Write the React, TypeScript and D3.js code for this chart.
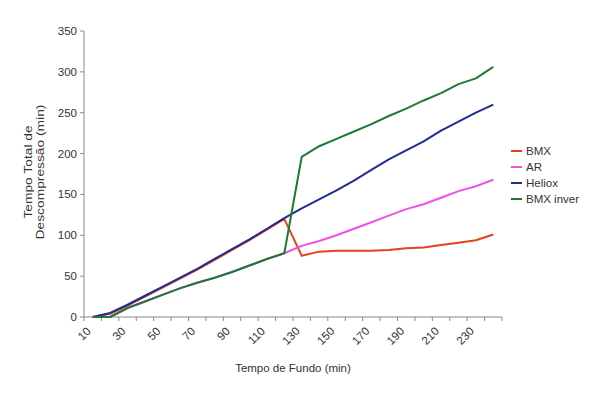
import React from "react";
import * as d3 from "d3";

const categories = [10, 20, 30, 40, 50, 60, 70, 80, 90, 100, 110, 120, 130, 140, 150, 160, 170, 180, 190, 200, 210, 220, 230, 240];
const bmx = [0, 4, 14, 25, 36, 47, 58, 70, 82, 94, 107, 120, 75, 80, 81, 81, 81, 82, 84, 85, 88, 91, 94, 101];
const ar = [0, 0, 11, 19, 27, 35, 42, 48, 55, 63, 71, 78, 87, 93, 100, 108, 116, 124, 132, 138, 146, 154, 160, 168];
const heliox = [0, 5, 15, 26, 37, 48, 59, 71, 83, 95, 108, 121, 133, 144, 155, 167, 180, 193, 204, 215, 228, 239, 250, 260];
const bmxInver = [0, 0, 11, 19, 27, 35, 42, 48, 55, 63, 71, 78, 196, 209, 218, 227, 236, 246, 255, 265, 274, 285, 292, 306];
const yTicks = [0, 50, 100, 150, 200, 250, 300, 350];
const seriesNames = ["BMX", "AR", "Heliox", "BMX inver"];
const seriesColors = ["#e8401c", "#f050e8", "#232a96", "#1c7a32"];

const W = 591;
const H = 399;
const left = 84;
const right = 502;
const top = 31;
const bottom = 317;
const font = "Liberation Sans, Arial, sans-serif";

export default function App() {
  const x = d3.scaleBand<number>().domain(categories).range([left, right]).paddingInner(0).paddingOuter(0);
  const y = d3.scaleLinear().domain([0, 350]).range([bottom, top]);
  const cx = (c: number) => (x(c) as number) + x.bandwidth() / 2;
  const series = [bmx, ar, heliox, bmxInver];
  const line = d3
    .line<number>()
    .x((_, i) => cx(categories[i]))
    .y((v) => y(v));
  const boundaries = d3.range(categories.length + 1).map((i) => left + i * x.bandwidth());

  return (
    <svg width={W} height={H} style={{ position: "absolute", left: 0, top: 0, background: "#fff" }} fontFamily={font}>
      <rect x={0} y={0} width={W} height={H} fill="#fff" />
      {/* axes */}
      <line x1={left} x2={left} y1={top} y2={bottom} stroke="#8a8a8a" strokeWidth={1} />
      <line x1={left} x2={right} y1={bottom} y2={bottom} stroke="#8a8a8a" strokeWidth={1} />
      {yTicks.map((t) => (
        <g key={"y" + t}>
          <line x1={left - 4} x2={left} y1={y(t)} y2={y(t)} stroke="#8a8a8a" />
          <text x={left - 7} y={y(t)} dy="0.35em" textAnchor="end" fontSize={11.5} fill="#333">
            {t}
          </text>
        </g>
      ))}
      {boundaries.map((b, i) => (
        <line key={"xt" + i} x1={b} x2={b} y1={bottom} y2={bottom + 4} stroke="#8a8a8a" />
      ))}
      {categories.map((c, i) =>
        i % 2 === 0 ? (
          <text
            key={"xl" + c}
            transform={`translate(${cx(c) - 4},${bottom + 12}) rotate(-45)`}
            textAnchor="end"
            dy="0.35em"
            fontSize={11.5}
            fill="#333"
          >
            {c}
          </text>
        ) : null
      )}
      {/* axis titles */}
      <text x={(left + right) / 2} y={372} textAnchor="middle" fontSize={11.5} fill="#333">
        Tempo de Fundo (min)
      </text>
      <text transform={`translate(32,172) rotate(-90) scale(1.2,1)`} textAnchor="middle" fontSize={11.5} fill="#333">
        Tempo Total de
      </text>
      <text transform={`translate(44,172) rotate(-90) scale(1.2,1)`} textAnchor="middle" fontSize={11.5} fill="#333">
        Descompressão (min)
      </text>
      {/* lines */}
      {series.map((s, k) => (
        <path key={"s" + k} d={line(s) || ""} fill="none" stroke={seriesColors[k]} strokeWidth={2} strokeLinejoin="round" />
      ))}
      {/* legend */}
      {seriesNames.map((n, k) => (
        <g key={"lg" + k} transform={`translate(511,${151 + k * 16})`}>
          <line x1={0} x2={11} y1={0} y2={0} stroke={seriesColors[k]} strokeWidth={2} />
          <text x={15} y={0} dy="0.35em" fontSize={11.5} fill="#333">
            {n}
          </text>
        </g>
      ))}
    </svg>
  );
}
